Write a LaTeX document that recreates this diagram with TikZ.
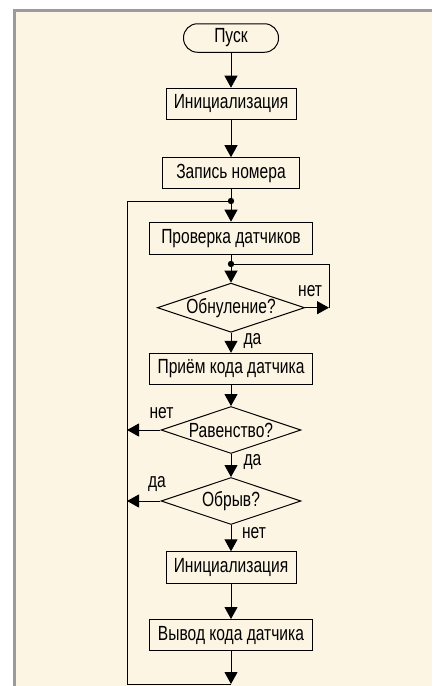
\documentclass[tikz,border=0pt]{standalone}
\usepackage{fontspec}
\setmainfont{Liberation Sans}[FakeStretch=0.76]
\usetikzlibrary{arrows.meta}
\usetikzlibrary{shapes.geometric}
\usetikzlibrary{positioning}
\definecolor{paper}{RGB}{253,245,228}
\definecolor{frame}{RGB}{155,155,155}

\begin{document}
\begin{tikzpicture}[x=1pt,y=-1pt,line width=1pt,
  every node/.style={font=\fontsize{20.5}{23}\selectfont,inner sep=0pt},
  term/.style={draw,rounded corners=14pt,minimum width=95pt,minimum height=28.5pt},
  box/.style={draw,minimum height=31pt},
  ask/.style={draw,diamond,aspect=3,minimum width=140pt,minimum height=47pt},
  arr/.style={-{Triangle[length=12pt,width=13pt]}},
  lbl/.style={}]
  \useasboundingbox (0,0) rectangle (432,686);
  \fill[white] (0,0) rectangle (432,686);
  \fill[paper] (14.5,10.5) rectangle (432,686);
  \draw[frame,line width=3pt] (14.5,686) -- (14.5,10.5) -- (432,10.5);

  \node[term] (start) at (231,38) {Пуск};
  \node[box,minimum width=130pt] (init1) at (231,103.7) {Инициализация};
  \node[box,minimum width=137pt] (rec) at (231,173.2) {Запись номера};
  \node[box,minimum width=163pt,minimum height=32pt] (check) at (231,238.2) {Проверка датчиков};
  \node[ask] (zero) at (231,307.7) {Обнуление?};
  \node[box,minimum width=163pt] (recv) at (231,368.8) {Приём кода датчика};
  \node[ask] (equal) at (231,430) {Равенство?};
  \node[ask] (brk) at (231,501) {Обрыв?};
  \node[box,minimum width=130pt,minimum height=32pt] (init2) at (231,567.8) {Инициализация};
  \node[box,minimum width=163pt] (out) at (231,635) {Вывод кода датчика};

  \node[lbl] (lno1) at ([shift={(5,-16.7)}]zero.east) {нет};
  \node[lbl] (lyes1) at ([shift={(21.5,8)}]zero.south) {да};
  \node[lbl] (lno2) at ([shift={(1,-16.7)}]equal.west) {нет};
  \node[lbl] (lyes2) at ([shift={(21.5,8)}]equal.south) {да};
  \node[lbl] (lyes3) at ([shift={(-3.5,-16.7)}]brk.west) {да};
  \node[lbl] (lno3) at ([shift={(23,7.7)}]brk.south) {нет};

  \coordinate (dot1) at (231,201);
  \coordinate (dot2) at (231,264);
  \coordinate (zr) at (329,307.7);
  \coordinate (lt) at (127,201);
  \coordinate (lb) at (127,684);
  \coordinate (bot) at (231,684);
  \fill (dot1) circle (3.2pt) (dot2) circle (3.2pt);

  \draw[arr] (start) -- (init1);
  \draw[arr] (init1) -- (rec);
  \draw (rec) -- (dot1);
  \draw[arr] (dot1) -- (check);
  \draw (check) -- (dot2);
  \draw[arr] (dot2) -- (zero);
  \draw (dot2) -| (zr);
  \draw[arr] (zero) -- (zr);
  \draw[arr] (zero) -- (recv);
  \draw[arr] (recv) -- (equal);
  \draw[arr] (equal) -- (equal -| lt);
  \draw[arr] (equal) -- (brk);
  \draw[arr] (brk) -- (brk -| lt);
  \draw[arr] (brk) -- (init2);
  \draw[arr] (init2) -- (out);
  \draw[arr] (out) -- (bot);
  \draw (bot) -- (lb) -- (lt) -- (dot1);
\end{tikzpicture}
\end{document}
